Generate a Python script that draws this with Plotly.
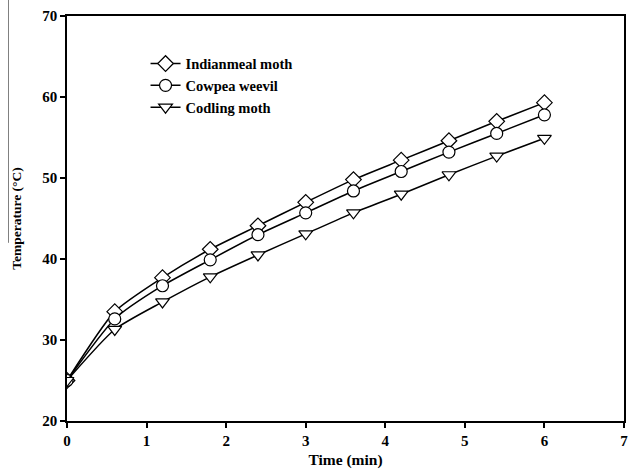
import plotly.graph_objects as go

time_min = [0, 0.6, 1.2, 1.8, 2.4, 3.0, 3.6, 4.2, 4.8, 5.4, 6.0]
indianmeal = [25.0, 33.5, 37.7, 41.2, 44.1, 47.0, 49.8, 52.2, 54.6, 57.0, 59.3]
cowpea = [25.0, 32.6, 36.7, 39.9, 43.0, 45.7, 48.4, 50.8, 53.2, 55.5, 57.8]
codling = [25.0, 31.3, 34.7, 37.8, 40.5, 43.1, 45.7, 48.0, 50.4, 52.7, 54.9]
series_names = ["Indianmeal moth", "Cowpea weevil", "Codling moth"]
symbols = ["diamond", "circle", "triangle-down"]

fig = go.Figure()
for name, vals, sym in zip(series_names, [indianmeal, cowpea, codling], symbols):
    fig.add_trace(go.Scatter(
        x=time_min, y=vals, name="<b>%s</b>" % name, mode="lines+markers",
        line=dict(color="black", width=1.5, shape="spline", smoothing=0.6),
        marker=dict(symbol=sym, size=12, color="white",
                    line=dict(color="black", width=1.2)),
    ))

font_family = "Liberation Serif, Times New Roman, serif"
fig.update_layout(
    width=633, height=475,
    margin=dict(l=67, r=5, t=16, b=54),
    plot_bgcolor="white", paper_bgcolor="white",
    font=dict(family=font_family, color="black", size=15),
    showlegend=True,
    legend=dict(x=0.141, y=0.922, xanchor="left", yanchor="top",
                bgcolor="rgba(0,0,0,0)", borderwidth=0,
                font=dict(family=font_family, size=14.5, color="black"),
                tracegroupgap=0, itemwidth=30),
    xaxis=dict(range=[0, 7], tickvals=[0, 1, 2, 3, 4, 5, 6, 7],
               ticktext=["<b>%d</b>" % v for v in range(8)],
               showgrid=False, zeroline=False, showline=True, mirror=True,
               linecolor="black", linewidth=1.5, ticks="outside", ticklen=5,
               tickwidth=1.5, tickcolor="black",
               title=dict(text="<b>Time (min)</b>", font=dict(size=15.5), standoff=6)),
    yaxis=dict(range=[20, 70], tickvals=[20, 30, 40, 50, 60, 70],
               ticktext=["<b>%d</b>" % v for v in range(20, 71, 10)],
               showgrid=False, zeroline=False, showline=True, mirror=True,
               linecolor="black", linewidth=1.5, ticks="outside", ticklen=5,
               tickwidth=1.5, tickcolor="black",
               title=dict(text="<b>Temperature (°C)</b>", font=dict(size=13.5), standoff=18)),
)
# scan artifact line at the left edge
fig.add_shape(type="line", xref="paper", yref="paper", x0=-0.105, x1=-0.105,
              y0=1.04, y1=0.44, line=dict(color="gray", width=1))
fig.write_html("out.html")
